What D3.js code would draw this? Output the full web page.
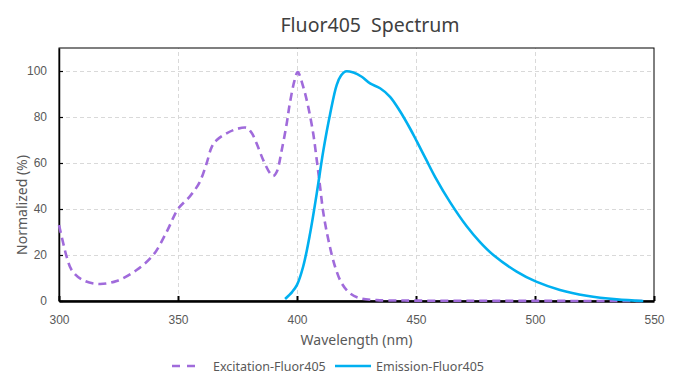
<!DOCTYPE html>
<html>
<head>
<meta charset="utf-8">
<script src="https://cdn.jsdelivr.net/npm/d3@7"></script>
<style>
  body { margin: 0; background: #fff; }
  svg { font-family: "Noto Sans", "Open Sans", sans-serif; }
  .grid line { stroke: #d9d9d9; stroke-dasharray: 4,3; }
  .grid .domain { display: none; }
  .tick text { fill: #595959; font-size: 12px; }
</style>
</head>
<body>
<svg id="chart" width="677" height="391"></svg>
<script>
/* excitation spectrum (nm, %) */
const exWave = [300, 301.8, 303.2, 305.3, 309.5, 316.5, 324.2, 332.6, 339.6, 345.2, 350, 355, 359, 362, 364.2, 366.3, 370.4, 374.7, 378.9, 381, 383, 385.8, 388.7, 390, 391.5, 393.6, 395.7, 397, 399, 400.3, 402.6, 404.7, 406.8, 408.3, 409.7, 411.1, 413.2, 416, 418.8, 422.3, 426.5, 433.5, 445, 470, 500, 545];
const exValue = [33, 25, 19.3, 13.5, 9.4, 7.4, 8.7, 13.5, 20, 30, 40, 45.5, 51.5, 59.8, 67, 70, 72.9, 74.8, 75.3, 73, 68.6, 61.3, 55.5, 54.3, 56.2, 65.7, 77.3, 86, 96, 99.5, 93.2, 84.5, 72.9, 61.3, 49.7, 38.1, 26.5, 14.9, 7.7, 3.3, 1.2, 0.4, 0.2, 0.1, 0.05, 0];

/* emission spectrum (nm, %) */
const emWave = [395, 398, 400, 402.6, 405.5, 408.3, 411.1, 413.9, 416.7, 418.5, 420.3, 423.7, 427.2, 430.7, 434.9, 439.1, 443.3, 447.5, 450.3, 454.5, 458, 464.3, 471.3, 477, 482.5, 492.3, 500.5, 510.5, 521.7, 534.3, 545.5];
const emValue = [0.9, 4, 7, 15, 29.4, 46.8, 65.6, 81.2, 94, 98, 99.8, 99.3, 97.5, 94.6, 92.5, 88.8, 82.5, 75, 69.5, 61, 54, 43, 32.5, 25.5, 20, 12.8, 8.4, 4.8, 2.3, 0.7, 0];

const xTicks = [300, 350, 400, 450, 500, 550];
const yTicks = [0, 20, 40, 60, 80, 100];

const seriesNames = ["Excitation-Fluor405", "Emission-Fluor405"];
const seriesColors = ["#a06bdb", "#00b0f0"];

const margin = {top: 48, right: 23, bottom: 90, left: 59};
const width = 677 - margin.left - margin.right;
const height = 391 - margin.top - margin.bottom;

const svg = d3.select("#chart");
const chart = svg.append("g")
  .attr("transform", `translate(${margin.left},${margin.top})`);

const xScale = d3.scaleLinear().domain([300, 550]).range([0, width]);
const yScale = d3.scaleLinear().domain([0, 110]).range([height, 0]);

// grid
chart.append("g")
  .attr("class", "grid")
  .call(d3.axisLeft(yScale).tickValues(yTicks.slice(1)).tickSize(-width).tickFormat(""));
chart.append("g")
  .attr("class", "grid")
  .attr("transform", `translate(0,${height})`)
  .call(d3.axisBottom(xScale).tickValues(xTicks.slice(1, -1)).tickSize(-height).tickFormat(""));

// frame
chart.append("rect")
  .attr("width", width).attr("height", height)
  .attr("fill", "none").attr("stroke", "#000").attr("stroke-width", 1);

// axes
const xAxis = chart.append("g")
  .attr("transform", `translate(0,${height})`)
  .call(d3.axisBottom(xScale).tickValues(xTicks).tickSizeInner(-5).tickSizeOuter(0).tickPadding(14));
xAxis.select(".domain").attr("stroke", "#000").attr("stroke-width", 2.5);
xAxis.selectAll(".tick line").attr("stroke", "#000").attr("stroke-width", 2);

const yAxis = chart.append("g")
  .call(d3.axisLeft(yScale).tickValues(yTicks).tickSizeInner(-4).tickSizeOuter(0).tickPadding(12));
yAxis.select(".domain").attr("stroke", "#000").attr("stroke-width", 1.5);
yAxis.selectAll(".tick line").attr("stroke", "#000").attr("stroke-width", 1.2);

// curves (smoothed like spreadsheet lines)
const line = d3.line()
  .x(d => xScale(d[0]))
  .y(d => yScale(d[1]))
  .curve(d3.curveCatmullRom.alpha(0.5));

const exData = d3.zip(exWave, exValue);
const emData = d3.zip(emWave, emValue);

chart.append("path")
  .datum(exData)
  .attr("d", line)
  .attr("fill", "none")
  .attr("stroke", seriesColors[0])
  .attr("stroke-width", 2.6)
  .attr("stroke-dasharray", "8,5");

chart.append("path")
  .datum(emData)
  .attr("d", line)
  .attr("fill", "none")
  .attr("stroke", seriesColors[1])
  .attr("stroke-width", 2.6);

// title
svg.append("text")
  .attr("x", 370)
  .attr("y", 32)
  .attr("text-anchor", "middle")
  .attr("fill", "#404040")
  .attr("font-size", 19.5)
  .style("white-space", "pre")
  .text("Fluor405  Spectrum");

// axis labels
svg.append("text")
  .attr("x", margin.left + width / 2)
  .attr("y", 345)
  .attr("text-anchor", "middle")
  .attr("fill", "#595959")
  .attr("font-size", 14)
  .text("Wavelength (nm)");

svg.append("text")
  .attr("transform", "translate(27,205) rotate(-90)")
  .attr("text-anchor", "middle")
  .attr("fill", "#595959")
  .attr("font-size", 14)
  .text("Normalized (%)");

// legend
const legend = svg.append("g").attr("transform", "translate(0,366)");
const legendX = [[172, 200, 213], [335, 371, 376]];
seriesNames.forEach((name, i) => {
  legend.append("line")
    .attr("x1", legendX[i][0]).attr("x2", legendX[i][1])
    .attr("stroke", seriesColors[i])
    .attr("stroke-width", 2.6)
    .attr("stroke-dasharray", i === 0 ? "8,7" : null);
  legend.append("text")
    .attr("x", legendX[i][2])
    .attr("y", 4.5)
    .attr("fill", "#595959")
    .attr("font-size", 12.5)
    .text(name);
});
</script>
</body>
</html>
